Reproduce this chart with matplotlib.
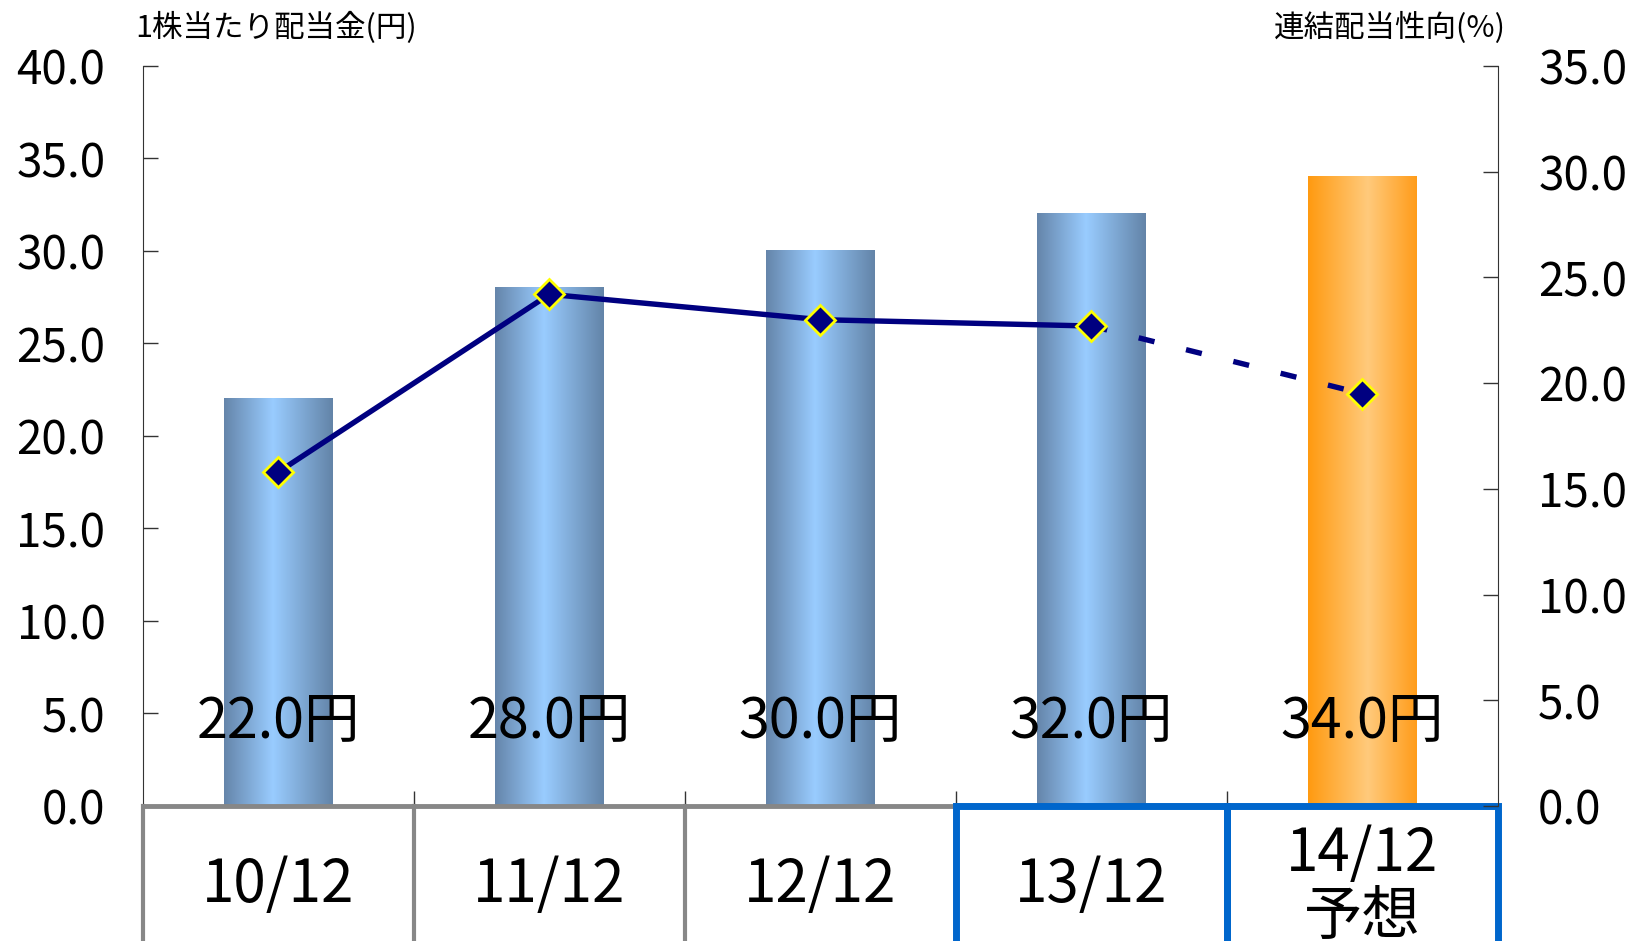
import numpy as np
import matplotlib
matplotlib.use('Agg')
from matplotlib import pyplot as plt
from matplotlib.colors import LinearSegmentedColormap
from matplotlib.patches import Rectangle
from matplotlib.transforms import blended_transform_factory

plt.rcParams['font.family'] = ['Noto Sans CJK JP', 'DejaVu Sans']

# data
years = ['10/12', '11/12', '12/12', '13/12', '14/12\n予想']
dividend = [22.0, 28.0, 30.0, 32.0, 34.0]       # 1株当たり配当金(円)
payout = [15.8, 24.2, 23.0, 22.7, 19.5]         # 連結配当性向(%)
boxed = [False, False, False, True, True]
is_forecast = [False, False, False, False, True]

x = np.arange(len(years))

blue_cmap = LinearSegmentedColormap.from_list(
    'blue_bar', [(0, '#6585aa'), (0.45, '#99ccff'), (1, '#6384a8')])
orange_cmap = LinearSegmentedColormap.from_list(
    'orange_bar', [(0, '#ff9a10'), (0.55, '#ffca7c'), (1, '#ff9c1a')])

fig = plt.figure(figsize=(16.34, 9.41), dpi=100)
ax = fig.add_axes([0.0875, 0.1435, 0.8292, 0.7864])

bars = ax.bar(x, dividend, width=0.4, facecolor='none', edgecolor='none', zorder=2)
grad = np.linspace(0, 1, 256).reshape(1, -1)
for b, fc in zip(bars, is_forecast):
    x0, y0 = b.get_x(), b.get_y()
    cmap = orange_cmap if fc else blue_cmap
    ax.imshow(grad, cmap=cmap, aspect='auto', zorder=2,
              extent=(x0, x0 + b.get_width(), y0, y0 + b.get_height()))

ax.set_xlim(-0.5, len(years) - 0.5)
ax.set_ylim(0, 40)
ax.set_yticks(np.arange(0, 41, 5))
ax.yaxis.set_major_formatter('{x:.1f}')
ax.tick_params(axis='y', direction='in', length=11, width=1, pad=27,
               labelsize=33, color='#333333')
ax.set_xticks(x[:-1] + 0.5)
ax.set_xticklabels([])
ax.tick_params(axis='x', direction='in', length=11, width=1, color='#333333')
ax.spines['top'].set_visible(False)
ax.spines['right'].set_visible(False)
ax.spines['left'].set_color('#333333')
ax.spines['bottom'].set_color('#878787')
ax.spines['bottom'].set_linewidth(3.5)

for xi, v in zip(x, dividend):
    ax.text(xi, 4.5, f'{v:.1f}円', ha='center', va='center', fontsize=40, zorder=3)

# table under the axis
trans = blended_transform_factory(ax.transData, ax.transAxes)
for xb in np.arange(-0.5, len(years), 1.0):
    ax.plot([xb, xb], [0, -0.3], color='#878787', lw=3, transform=trans,
            clip_on=False, zorder=4)
for xi, lab, bx in zip(x, years, boxed):
    ax.text(xi, -0.108, lab, transform=trans, ha='center', va='center',
            fontsize=42, linespacing=1.05)
    if bx:
        ax.add_patch(Rectangle((xi - 0.5, -0.3), 1, 0.3, transform=trans,
                               fill=False, edgecolor='#0066cc', lw=5,
                               clip_on=False, zorder=6))

ax2 = ax.twinx()
ax2.set_ylim(0, 35)
ax2.set_yticks(np.arange(0, 36, 5))
ax2.yaxis.set_major_formatter('{x:.1f}')
ax2.tick_params(axis='y', direction='in', length=11, width=1, pad=29,
                labelsize=33, color='#333333')
for s in ['top', 'left', 'bottom']:
    ax2.spines[s].set_visible(False)
ax2.spines['right'].set_color('#333333')

ax2.plot(x[:4], payout[:4], color='#000080', lw=3.9, zorder=3)
ax2.plot(x[3:], payout[3:], color='#000080', lw=3.9, dashes=(3, 6), zorder=3)
ax2.plot(x, payout, ls='none', marker='D', ms=15, mfc='#000080',
         mec='#ffff00', mew=2, zorder=4)

fig.text(135 / 1634, 1 - 28 / 941, '1株当たり配当金(円)', ha='left', va='center', fontsize=22)
fig.text(1506 / 1634, 1 - 28 / 941, '連結配当性向(%)', ha='right', va='center', fontsize=22)

fig.savefig('out.png', dpi=100)
